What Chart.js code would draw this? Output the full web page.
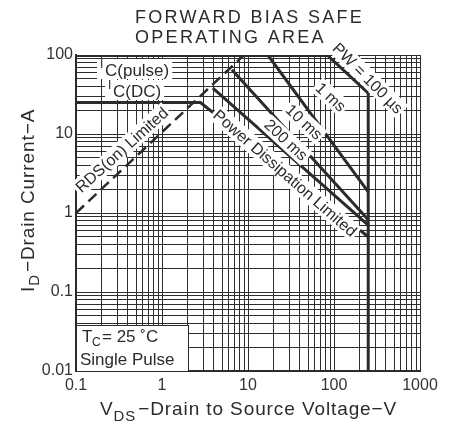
<!DOCTYPE html>
<html>
<head>
<meta charset="utf-8">
<script src="https://cdn.jsdelivr.net/npm/chart.js@4/dist/chart.umd.min.js"></script>
<style>
  body { margin: 0; background: #fff; }
  canvas { display: block; }
</style>
</head>
<body>
<canvas id="soa" width="455" height="434"></canvas>
<script>
// valores (V em volts, I em amperes)
const xTickLabels = [0.1, 1, 10, 100, 1000];
const yTickLabels = [0.01, 0.1, 1, 10, 100];

const pulseV = [0.1, 83];
const pulseI = [100, 100];
const dcV = [0.1, 2.8, 250];
const dcI = [25, 25, 0.5];
const rdsV = [0.1, 9];
const rdsI = [1, 100];
const pw100usV = [83, 250];
const pw100usI = [100, 33];
const vdssV = [250, 250];
const vdssI = [33, 0.01];
const ms1V = [17, 250];
const ms1I = [100, 1.85];
const ms10V = [6.5, 250];
const ms10I = [65, 0.82];
const ms200V = [3.9, 250];
const ms200I = [38, 0.7];

const ink = '#2b2b2b';
const font = '"Liberation Sans", Arial, sans-serif';

// linhas da grade: 1..9 em cada década
function decadeGrid(from, to) {
  const vals = [];
  for (let d = from; d < to; d++) {
    for (let m = 1; m < 10; m++) vals.push(Number((m * Math.pow(10, d)).toPrecision(3)));
  }
  vals.push(Math.pow(10, to));
  return vals;
}
const xGrid = decadeGrid(-1, 3);
const yGrid = decadeGrid(-2, 2);

function pts(xs, ys) {
  return xs.map((x, i) => ({ x: x, y: ys[i] }));
}

function curve(label, xs, ys, width, dash) {
  return {
    label: label,
    data: pts(xs, ys),
    borderColor: ink,
    borderWidth: width,
    borderDash: dash || [],
    pointRadius: 0,
    fill: false,
    tension: 0,
  };
}

// textos girados com fundo branco, posição em coordenadas de dados
const notes = [
  { text: 'RDS(on) Limited', v: 0.34, i: 6.3, angle: -42 },
  { text: 'Power Dissipation Limited', v: 27, i: 3.2, angle: 41 },
  { text: '200 ms', v: 27.7, i: 8.4, angle: 43 },
  { text: '10 ms', v: 44.8, i: 14.2, angle: 43 },
  { text: '1 ms', v: 92, i: 29.4, angle: 43 },
  { text: 'PW = 100 \u00b5s', v: 248, i: 51, angle: 45 },
];

const decor = {
  id: 'decor',
  afterDatasetsDraw(chart) {
    const ctx = chart.ctx;
    const xs = chart.scales.x, ys = chart.scales.y;
    ctx.save();
    ctx.fillStyle = ink;
    ctx.textBaseline = 'middle';
    ctx.font = '16px ' + font;

    notes.forEach(n => {
      const px = xs.getPixelForValue(n.v), py = ys.getPixelForValue(n.i);
      ctx.save();
      ctx.translate(px, py);
      ctx.rotate(n.angle * Math.PI / 180);
      const w = ctx.measureText(n.text).width;
      ctx.fillStyle = '#fff';
      ctx.fillRect(-w / 2 - 2, -9, w + 4, 18);
      ctx.fillStyle = ink;
      ctx.textAlign = 'center';
      ctx.fillText(n.text, 0, 1);
      ctx.restore();
    });

    // I_C(pulse) e I_C(DC)
    ctx.textBaseline = 'alphabetic';
    function icLabel(sub, x, y) {
      ctx.font = '17px ' + font;
      const w = ctx.measureText(sub).width;
      ctx.fillStyle = '#fff';
      ctx.fillRect(x - 3, y - 17, w + 11, 20);
      ctx.fillStyle = ink;
      ctx.textAlign = 'left';
      ctx.font = '12px ' + font;
      ctx.fillText('I', x, y - 8);
      ctx.font = '17px ' + font;
      ctx.fillText(sub, x + 5, y);
    }
    icLabel('C(pulse)', 100, 76);
    icLabel('C(DC)', 108, 97);

    // caixa T_C = 25 °C
    const bx = chart.chartArea.left, by = 325, bw = 112, bh = chart.chartArea.bottom - 325;
    ctx.fillStyle = '#fff';
    ctx.fillRect(bx, by, bw, bh);
    ctx.strokeStyle = ink;
    ctx.lineWidth = 1;
    ctx.strokeRect(bx + 0.5, by + 0.5, bw, bh);
    ctx.fillStyle = ink;
    ctx.textAlign = 'left';
    ctx.font = '17px ' + font;
    ctx.fillText('T', 82, 342);
    ctx.font = '12px ' + font;
    ctx.fillText('C', 92, 346);
    ctx.font = '17px ' + font;
    ctx.fillText('= 25 \u02daC', 102, 342);
    ctx.fillText('Single Pulse', 80, 365);
    ctx.restore();
  },
  afterDraw(chart) {
    const ctx = chart.ctx;
    ctx.save();
    ctx.fillStyle = ink;
    ctx.textBaseline = 'alphabetic';
    ctx.textAlign = 'left';
    ctx.font = '18px ' + font;
    ctx.letterSpacing = '2.3px';
    ctx.fillText('FORWARD BIAS SAFE', 135, 23);
    ctx.fillText('OPERATING AREA', 135, 43);

    // título do eixo x
    ctx.letterSpacing = '0.9px';
    ctx.font = '19px ' + font;
    let x = 100;
    const yb = 418;
    ctx.fillText('V', x, yb - 3);
    x += ctx.measureText('V').width;
    ctx.font = '15px ' + font;
    ctx.fillText('DS', x, yb + 3);
    x += ctx.measureText('DS').width + 2;
    ctx.font = '19px ' + font;
    ctx.fillText('\u2212Drain to Source Voltage\u2212V', x, yb - 3);

    // título do eixo y
    ctx.translate(34, 292);
    ctx.rotate(-Math.PI / 2);
    x = 0;
    ctx.fillText('I', x, 0);
    x += ctx.measureText('I').width;
    ctx.font = '15px ' + font;
    ctx.fillText('D', x, 5);
    x += ctx.measureText('D').width + 2;
    ctx.font = '19px ' + font;
    ctx.fillText('\u2212Drain Current\u2212A', x, 0);
    ctx.restore();
  }
};

function logAxis(min, max, grid, labels, fit) {
  return {
    type: 'logarithmic',
    min: min,
    max: max,
    afterBuildTicks: scale => { scale.ticks = grid.map(v => ({ value: v })); },
    afterFit: fit,
    border: { display: true, color: ink, width: 2 },
    grid: { color: '#2e2e2e', lineWidth: 1, drawTicks: false },
    ticks: {
      autoSkip: false,
      maxRotation: 0,
      color: '#333',
      font: { family: font, size: 16 },
      callback: v => (labels.indexOf(v) >= 0 ? String(v) : ''),
    },
  };
}

const xAxis = logAxis(0.1, 1000, xGrid, xTickLabels, s => { s.height = 63; });
xAxis.ticks.padding = 5;
const yAxis = logAxis(0.01, 100, yGrid, yTickLabels, s => { s.width = 76; });
yAxis.ticks.padding = 3;

new Chart(document.getElementById('soa'), {
  type: 'line',
  data: {
    datasets: [
      curve('IC(pulse)', pulseV, pulseI, 4),
      curve('IC(DC)', dcV, dcI, 3),
      curve('RDS(on)', rdsV, rdsI, 2.5, [11, 6]),
      curve('100us', pw100usV, pw100usI, 3),
      curve('VDSS', vdssV, vdssI, 3),
      curve('1ms', ms1V, ms1I, 3),
      curve('10ms', ms10V, ms10I, 3),
      curve('200ms', ms200V, ms200I, 3),
    ],
  },
  options: {
    responsive: false,
    animation: false,
    layout: { padding: { top: 55, right: 35, left: 0, bottom: 0 } },
    plugins: { legend: { display: false }, tooltip: { enabled: false }, title: { display: false } },
    scales: { x: xAxis, y: yAxis },
  },
  plugins: [decor],
});
</script>
</body>
</html>
